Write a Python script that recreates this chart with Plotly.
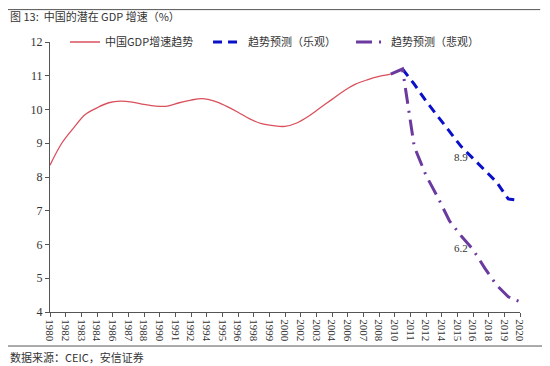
import plotly.graph_objects as go

# ---- data ----
hist_years = list(range(1980, 2010))
hist_values = [8.35, 9.0, 9.45, 9.85, 10.05, 10.2, 10.25, 10.22, 10.15, 10.1,
               10.1, 10.2, 10.28, 10.32, 10.25, 10.1, 9.92, 9.72, 9.58, 9.52,
               9.5, 9.6, 9.8, 10.05, 10.3, 10.55, 10.75, 10.88, 10.98, 11.05]

opt_years = list(range(2010, 2021))
opt_values = [11.2, 10.75, 10.25, 9.8, 9.35, 8.9, 8.55, 8.2, 7.85, 7.35, 7.3]

pes_years = list(range(2009, 2021))
pes_values = [11.05, 11.2, 8.9, 8.05, 7.4, 6.7, 6.25, 5.85, 5.3, 4.8, 4.45, 4.3]

tick_labels = ["1980", "1982", "1983", "1984", "1986", "1987", "1988", "1990",
               "1991", "1992", "1994", "1995", "1996", "1998", "1999", "2000",
               "2002", "2003", "2004", "2006", "2007", "2008", "2010", "2011",
               "2012", "2014", "2015", "2016", "2018", "2019", "2020"]

series_names = ["中国GDP增速趋势", "趋势预测（乐观）", "趋势预测（悲观）"]
annot_labels = [(2015, 8.9, "8.9"), (2015, 6.2, "6.2")]

# ---- figure ----
tick_pos = [1980 + i * 40 / 30 for i in range(len(tick_labels))]

serif = "Liberation Serif, Noto Sans CJK SC, serif"
cjk = "Noto Sans CJK SC, sans-serif"

fig = go.Figure()
fig.add_trace(go.Scatter(x=hist_years, y=hist_values, mode="lines",
                         name=series_names[0], line=dict(color="#d9505c", width=1.3, shape="spline")))
fig.add_trace(go.Scatter(x=opt_years, y=opt_values, mode="lines",
                         name=series_names[1], line=dict(color="#0a10c8", width=3, dash="9px,6px")))
fig.add_trace(go.Scatter(x=pes_years, y=pes_values, mode="lines",
                         name=series_names[2], line=dict(color="#6b3a9e", width=3, dash="16px,7px,2px,7px")))

for xv, yv, txt in annot_labels:
    fig.add_annotation(x=xv, y=yv - 0.3, text=txt, showarrow=False, xanchor="center",
                       yanchor="middle", font=dict(family=serif, size=11, color="#333333"))

fig.add_annotation(x=-0.089, y=1.096, xref="paper", yref="paper", xanchor="left", yanchor="middle",
                   text="图 13:  中国的潜在 GDP 增速（%）", showarrow=False,
                   font=dict(family=cjk, size=11, color="#333333"))
fig.add_annotation(x=-0.089, y=-0.167, xref="paper", yref="paper", xanchor="left", yanchor="middle",
                   text="数据来源：CEIC，安信证券", showarrow=False,
                   font=dict(family=cjk, size=11, color="#333333"))

fig.add_shape(type="line", xref="paper", yref="paper", x0=-0.106, x1=1.043, y0=1.12, y1=1.12,
              line=dict(color="#555555", width=1))
fig.add_shape(type="line", xref="paper", yref="paper", x0=-0.106, x1=1.053, y0=-0.126, y1=-0.126,
              line=dict(color="#555555", width=1))

# The page body has an 8px margin, so the figure is sized 8px smaller.
fig.update_layout(
    width=542, height=358,
    margin=dict(l=42, r=30, t=34, b=54),
    paper_bgcolor="white", plot_bgcolor="white",
    showlegend=True,
    legend=dict(orientation="h", x=0.032, y=1.0, xanchor="left", yanchor="middle",
                font=dict(family=cjk, size=11, color="#333333"), bgcolor="rgba(0,0,0,0)",
                entrywidth=98, entrywidthmode="pixels", itemwidth=30),
    xaxis=dict(range=[1980, 2020], tickmode="array", tickvals=tick_pos, ticktext=tick_labels,
               tickangle=90, showgrid=False, zeroline=False, showline=True, linecolor="#555555",
               ticks="outside", ticklen=4, tickcolor="#555555",
               tickfont=dict(family=serif, size=11, color="#333333"), automargin=False),
    yaxis=dict(range=[4, 12], dtick=1, showgrid=False, zeroline=False, showline=True,
               linecolor="#555555", ticks="outside", ticklen=4, tickcolor="#555555",
               tickfont=dict(family=serif, size=12, color="#333333"), automargin=False),
)

fig.write_html("out.html")
